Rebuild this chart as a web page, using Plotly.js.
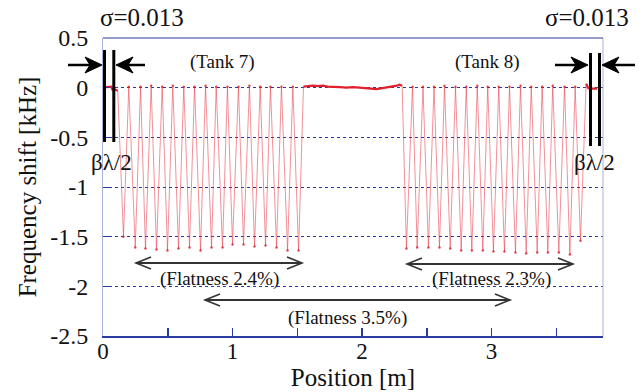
<!DOCTYPE html>
<html>
<head>
<meta charset="utf-8">
<script src="https://cdn.plot.ly/plotly-3.0.1.min.js"></script>
<style>html,body{margin:0;padding:0;background:#fff;}#chart{width:642px;height:392px;}</style>
</head>
<body>
<div id="chart"></div>
<script>
// ---- data (position in m, frequency shift in kHz) ----
var startFlatX = [0.004, 0.030, 0.063, 0.073, 0.095, 0.114];
var startFlatY = [0.01, 0.005, 0.01, -0.02, -0.02, -0.03];

var tank7DipX = [0.158, 0.249, 0.328, 0.413, 0.498, 0.583, 0.668, 0.753, 0.838, 0.923, 1.000, 1.085, 1.170, 1.255, 1.340, 1.425, 1.510];
var tank7DipY = [-1.50, -1.61, -1.62, -1.63, -1.64, -1.62, -1.61, -1.64, -1.61, -1.61, -1.58, -1.58, -1.60, -1.59, -1.61, -1.64, -1.64];
var tank7PeakX = [0.199, 0.290, 0.372, 0.457, 0.539, 0.624, 0.707, 0.792, 0.874, 0.961, 1.046, 1.131, 1.214, 1.293, 1.378, 1.466];
var tank7PeakY = [0.01, 0.01, 0.02, 0.01, 0.02, 0.01, 0.01, 0.02, 0.01, 0.01, 0.01, 0.02, 0.01, 0.01, 0.01, 0.01];

var midFlatX = [1.548, 1.585, 1.620, 1.660, 1.697, 1.735, 1.775, 1.830, 1.878, 1.930, 1.981, 2.020, 2.058, 2.085, 2.110, 2.135, 2.161, 2.200, 2.238, 2.270, 2.290, 2.310];
var midFlatY = [0.01, 0.015, 0.02, 0.015, 0.02, 0.01, 0.01, 0.005, 0.00, 0.005, 0.00, -0.005, -0.005, -0.01, -0.015, -0.01, -0.005, 0.00, 0.01, 0.02, 0.03, 0.02];

var tank8DipX = [2.343, 2.426, 2.513, 2.598, 2.681, 2.766, 2.848, 2.933, 3.015, 3.100, 3.185, 3.268, 3.353, 3.435, 3.520, 3.605, 3.687];
var tank8DipY = [-1.62, -1.61, -1.61, -1.61, -1.62, -1.64, -1.64, -1.64, -1.65, -1.65, -1.66, -1.67, -1.66, -1.66, -1.66, -1.68, -1.54];
var tank8PeakX = [2.390, 2.471, 2.556, 2.637, 2.722, 2.805, 2.890, 2.971, 3.056, 3.139, 3.224, 3.307, 3.391, 3.473, 3.564, 3.646];
var tank8PeakY = [0.01, 0.01, 0.01, 0.02, 0.01, 0.01, 0.02, 0.01, 0.01, 0.01, 0.02, 0.01, 0.01, 0.02, 0.01, 0.01];

var endFlatX = [3.731, 3.745, 3.757, 3.780, 3.800, 3.816];
var endFlatY = [0.04, 0.0, -0.01, -0.01, -0.005, -0.01];

var yTickVals = [0.5, 0, -0.5, -1, -1.5, -2, -2.5];
var yTickText = ['0.5', '0', '-0.5', '-1', '-1.5', '-2', '-2.5'];
var xTickVals = [0, 1, 2, 3];
var xTickText = ['0', '1', '2', '3'];

// ---- assemble the measured curve ----
function interleave(dx, dy, px, py, outX, outY) {
  for (var i = 0; i < dx.length; i++) {
    outX.push(dx[i]); outY.push(dy[i]);
    if (i < px.length) { outX.push(px[i]); outY.push(py[i]); }
  }
}
var cx = [], cy = [];
startFlatX.forEach(function (v, i) { cx.push(v); cy.push(startFlatY[i]); });
interleave(tank7DipX, tank7DipY, tank7PeakX, tank7PeakY, cx, cy);
midFlatX.forEach(function (v, i) { cx.push(v); cy.push(midFlatY[i]); });
interleave(tank8DipX, tank8DipY, tank8PeakX, tank8PeakY, cx, cy);
endFlatX.forEach(function (v, i) { cx.push(v); cy.push(endFlatY[i]); });

var tipX = tank7DipX.concat(tank7PeakX, tank8DipX, tank8PeakX);
var tipY = tank7DipY.concat(tank7PeakY, tank8DipY, tank8PeakY);

var traces = [
  {x: cx, y: cy, type: 'scatter', mode: 'lines', line: {color: 'rgba(230,55,70,0.55)', width: 1}, hoverinfo: 'skip'},
  {x: startFlatX, y: startFlatY, type: 'scatter', mode: 'lines', line: {color: '#e0202c', width: 2.2}, hoverinfo: 'skip'},
  {x: midFlatX, y: midFlatY, type: 'scatter', mode: 'lines', line: {color: '#e0202c', width: 2.2}, hoverinfo: 'skip'},
  {x: endFlatX, y: endFlatY, type: 'scatter', mode: 'lines', line: {color: '#e0202c', width: 2.2}, hoverinfo: 'skip'},
  {x: tipX, y: tipY, type: 'scatter', mode: 'markers', marker: {color: 'rgba(215,25,40,0.75)', size: 2.5}, hoverinfo: 'skip'}
];

// ---- pixel helpers for decorations ----
var L = 103, T = 38, W = 500, H = 298;
function X(px) { return (px - L) / W; }
function Y(py) { return (T + H - py) / H; }
function P(px, py) { return X(px) + ',' + Y(py); }

var shapes = [];
function seg(x1, y1, x2, y2, w, c) {
  shapes.push({type: 'path', xref: 'paper', yref: 'paper', path: 'M' + P(x1, y1) + 'L' + P(x2, y2), line: {color: c, width: w}});
}
function openDouble(x1, x2, y) {
  var c = '#333333';
  seg(x1, y, x2, y, 2, c);
  shapes.push({type: 'path', xref: 'paper', yref: 'paper', path: 'M' + P(x1 + 15, y - 6) + 'L' + P(x1, y) + 'L' + P(x1 + 15, y + 6), line: {color: c, width: 1.6}});
  shapes.push({type: 'path', xref: 'paper', yref: 'paper', path: 'M' + P(x2 - 15, y - 6) + 'L' + P(x2, y) + 'L' + P(x2 - 15, y + 6), line: {color: c, width: 1.6}});
}
function solidArrow(tail, tip, y) {
  var d = tip > tail ? 1 : -1;
  seg(tail, y, tip - d * 10, y, 2.5, '#000');
  shapes.push({type: 'path', xref: 'paper', yref: 'paper',
    path: 'M' + P(tip, y) + 'L' + P(tip - d * 17, y - 8) + 'L' + P(tip - d * 12, y) + 'L' + P(tip - d * 17, y + 8) + 'Z',
    fillcolor: '#000', line: {color: '#000', width: 1}});
}
// frame lines
seg(603, 38, 603, 336, 1, '#aab0d4');
seg(103, 38, 603, 38, 1.2, '#2a3a9a');
// sigma brackets
seg(104.5, 50, 104.5, 142, 3, '#000');
seg(113.8, 50, 113.8, 142, 3, '#000');
seg(590.5, 53, 590.5, 146, 3, '#000');
seg(599.5, 53, 599.5, 146, 3, '#000');
solidArrow(68, 102, 65);
solidArrow(145, 116, 65);
solidArrow(555, 588, 65);
solidArrow(635, 602, 65);
// flatness arrows
openDouble(136, 302, 263);
openDouble(407, 573, 264);
openDouble(205, 510, 300);

var serif = '"Liberation Serif", "Times New Roman", serif';
function note(text, px, py, size) {
  return {text: text, x: X(px), y: Y(py), xref: 'paper', yref: 'paper', showarrow: false,
    xanchor: 'center', yanchor: 'middle', font: {family: serif, size: size, color: '#111'}};
}
var annotations = [
  note('σ=0.013', 142, 17, 25),
  note('σ=0.013', 587, 17, 25),
  note('(Tank 7)', 222, 62, 19),
  note('(Tank 8)', 487, 62, 19),
  note('βλ/2', 111, 162, 23),
  note('βλ/2', 594, 162, 23),
  note('(Flatness 2.4%)', 219, 279, 19),
  note('(Flatness 2.3%)', 491, 279, 19),
  note('(Flatness 3.5%)', 347, 318, 19)
];

var layout = {
  width: 642, height: 392,
  margin: {l: L, r: 39, t: T, b: 56},
  paper_bgcolor: '#fff', plot_bgcolor: '#fff',
  showlegend: false,
  font: {family: serif, color: '#111'},
  xaxis: {
    range: [0, 500 / 129.5], tickvals: xTickVals, ticktext: xTickText,
    ticks: 'inside', ticklen: 8, tickwidth: 1.5, tickcolor: '#2a3aa0',
    minor: {tickvals: [0.5, 1.5, 2.5, 3.5], ticks: 'inside', ticklen: 8, tickwidth: 1.5, tickcolor: '#2a3aa0', showgrid: false},
    showline: true, linecolor: '#2a3aa0', linewidth: 1.5,
    showgrid: false, zeroline: false,
    tickfont: {family: serif, size: 23, color: '#111'}, ticklabelstandoff: -6,
    title: {text: 'Position [m]', font: {family: serif, size: 25, color: '#111'}, standoff: 1}
  },
  yaxis: {
    range: [-2.5, 0.5], tickvals: yTickVals, ticktext: yTickText,
    ticks: 'inside', ticklen: 6, tickcolor: '#2a3aa0',
    showline: true, linecolor: '#aab0d4', linewidth: 1,
    showgrid: true, gridcolor: '#2a3a9a', griddash: 'dot', gridwidth: 1,
    zeroline: false,
    tickfont: {family: serif, size: 24, color: '#111'}, ticklabelstandoff: 9,
    title: {text: 'Frequency shift [kHz]', font: {family: serif, size: 25, color: '#111'}, standoff: 6}
  },
  shapes: shapes,
  annotations: annotations
};

Plotly.newPlot('chart', traces, layout, {staticPlot: true, displayModeBar: false});
</script>
</body>
</html>
